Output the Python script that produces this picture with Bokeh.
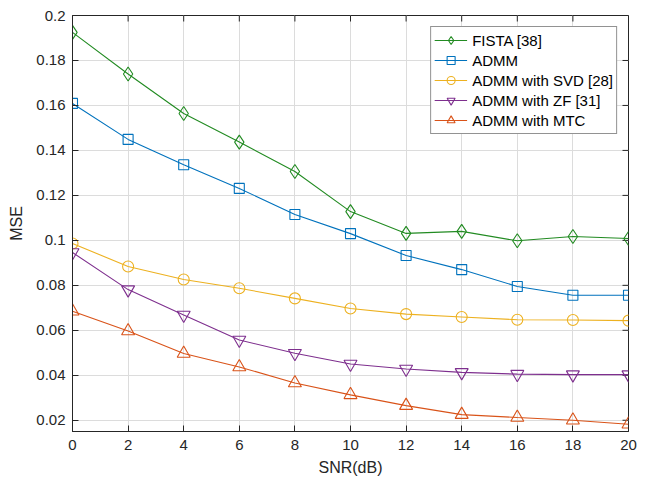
from bokeh.plotting import figure
from bokeh.models import FixedTicker, CustomJSTickFormatter, Legend, LegendItem, Range1d
from bokeh.embed import file_html
from bokeh.resources import INLINE

snr = [0, 2, 4, 6, 8, 10, 12, 14, 16, 18, 20]
fista = [0.1925, 0.1740, 0.1564, 0.1437, 0.1306, 0.1128, 0.1031, 0.1040, 0.0998, 0.1017, 0.1008]
admm = [0.1609, 0.1449, 0.1336, 0.1231, 0.1115, 0.1030, 0.0933, 0.0870, 0.0795, 0.0756, 0.0756]
svd = [0.0986, 0.0884, 0.0826, 0.0787, 0.0742, 0.0697, 0.0672, 0.0659, 0.0647, 0.0646, 0.0643]
zf = [0.0946, 0.0781, 0.0668, 0.0557, 0.0498, 0.0450, 0.0428, 0.0413, 0.0405, 0.0403, 0.0403]
mtc = [0.0685, 0.0597, 0.0497, 0.0437, 0.0366, 0.0313, 0.0265, 0.0225, 0.0212, 0.0200, 0.0182]

labels = ["FISTA [38]", "ADMM", "ADMM with SVD [28]", "ADMM with ZF [31]", "ADMM with MTC"]
series = [fista, admm, svd, zf, mtc]
colors = ["#228B22", "#0072BD", "#EDB120", "#7E2F8E", "#D95319"]
markers = ["diamond", "square", "circle", "inverted_triangle", "triangle"]
sizes = [14, 10, 11, 13, 13]

x_ticks = [0, 2, 4, 6, 8, 10, 12, 14, 16, 18, 20]
y_ticks = [0.02, 0.04, 0.06, 0.08, 0.1, 0.12, 0.14, 0.16, 0.18, 0.2]
X_MIN, X_MAX = 0, 20
Y_MIN, Y_MAX = 0.015, 0.2

FONT = "Liberation Sans"
TXT = "#262626"

p = figure(width=653, height=479, output_backend="svg", toolbar_location=None,
           x_range=Range1d(X_MIN, X_MAX), y_range=Range1d(Y_MIN, Y_MAX),
           min_border_left=72, min_border_right=25, min_border_top=15, min_border_bottom=48)
p.background_fill_color = "white"
p.border_fill_color = "white"
p.outline_line_color = TXT
p.outline_line_width = 1

fmt = CustomJSTickFormatter(code="var s = tick.toFixed(2); if (s.indexOf('.')>=0) { s = s.replace(/0+$/, ''); s = s.replace(/\\.$/, ''); } return s;")

for ax in [p.xaxis[0], p.yaxis[0]]:
    ax.major_tick_in = 6
    ax.major_tick_out = 0
    ax.minor_tick_line_color = None
    ax.axis_line_color = TXT
    ax.major_tick_line_color = TXT
    ax.major_label_text_font = FONT
    ax.major_label_text_font_size = "15px"
    ax.major_label_text_color = TXT
    ax.axis_label_text_font = FONT
    ax.axis_label_text_font_size = "16px"
    ax.axis_label_text_font_style = "normal"
    ax.axis_label_text_color = TXT

p.xaxis[0].ticker = FixedTicker(ticks=x_ticks)
p.yaxis[0].ticker = FixedTicker(ticks=y_ticks)
p.yaxis[0].formatter = fmt
p.xaxis[0].axis_label = "SNR(dB)"
p.yaxis[0].axis_label = "MSE"
p.xaxis[0].major_label_standoff = 8
p.yaxis[0].major_label_standoff = 7
p.xaxis[0].axis_label_standoff = 6
p.yaxis[0].axis_label_standoff = 8

p.xgrid.ticker = FixedTicker(ticks=x_ticks)
p.ygrid.ticker = FixedTicker(ticks=y_ticks)
for g in [p.xgrid[0], p.ygrid[0]]:
    g.grid_line_color = "#dcdcdc"
    g.grid_line_width = 1

# inner tick marks on the right and top edges of the box
tick_dx = (X_MAX - X_MIN) * 6 / 556
tick_dy = (Y_MAX - Y_MIN) * 6 / 416
p.segment(x0=[X_MAX] * len(y_ticks), y0=y_ticks, x1=[X_MAX - tick_dx] * len(y_ticks), y1=y_ticks,
          line_color=TXT, line_width=1)
p.segment(x0=x_ticks, y0=[Y_MAX] * len(x_ticks), x1=x_ticks, y1=[Y_MAX - tick_dy] * len(x_ticks),
          line_color=TXT, line_width=1)

items = []
for lab, ys, c, m, s in zip(labels, series, colors, markers, sizes):
    lr = p.line(snr, ys, line_color=c, line_width=1.1)
    sr = p.scatter(snr, ys, marker=m, size=s, line_color=c, fill_color=None, line_width=1.1)
    items.append(LegendItem(label=lab, renderers=[lr, sr]))

legend = Legend(items=items, location="top_right")
legend.margin = 11
legend.padding = 3
legend.spacing = 0
legend.glyph_width = 33
legend.glyph_height = 20
legend.label_height = 20
legend.label_standoff = 5
legend.label_text_font = FONT
legend.label_text_font_size = "15px"
legend.label_text_color = "black"
legend.label_text_baseline = "middle"
legend.border_line_color = TXT
legend.border_line_width = 1
legend.background_fill_color = "white"
legend.background_fill_alpha = 1
p.add_layout(legend, "center")

open("out.html", "w").write(file_html(p, INLINE))
